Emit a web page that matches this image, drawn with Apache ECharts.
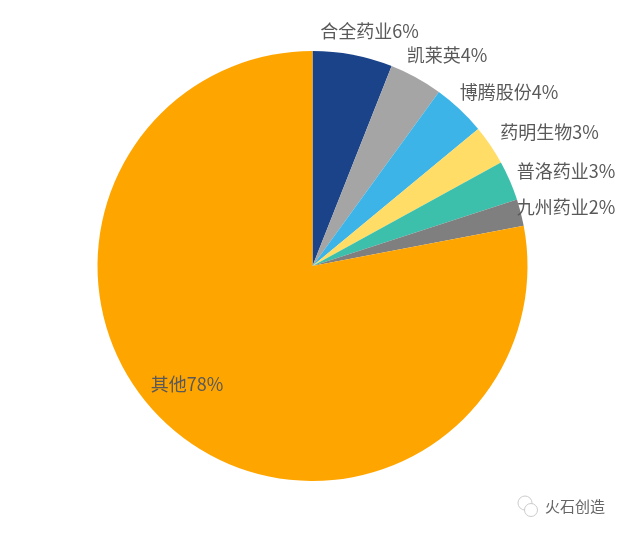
<!DOCTYPE html>
<html><head><meta charset="utf-8">
<style>html,body{margin:0;padding:0;background:#fff}#c{width:625px;height:533px}</style>
<script src="https://cdn.jsdelivr.net/npm/echarts@6/dist/echarts.min.js"></script>
</head><body><div id="c"></div>
<script>
const companies = ['合全药业','凯莱英','博腾股份','药明生物','普洛药业','九州药业','其他'];
const shares = [6,4,4,3,3,2,78];
const colours = ['#1A4389','#A5A5A5','#3CB4E7','#FFDD66','#3CC0AC','#7F7F7F','#FFA500'];
const labelCentres = [[369.5,31],[447,55],[509,92],[549.5,132],[566,171],[566,207],[187,384]];
const fontStack = '"Liberation Sans Narrow","Noto Sans CJK SC",sans-serif';
const chart = echarts.init(document.getElementById('c'), null, {renderer:'canvas'});
chart.setOption({
  animation:false,
  backgroundColor:'#fff',
  series:[{
    type:'pie',
    center:[312.5,266],
    radius:[0,215],
    startAngle:90,
    clockwise:true,
    avoidLabelOverlap:false,
    data:companies.map((n,i)=>({name:n,value:shares[i],itemStyle:{color:colours[i]}})),
    label:{show:true,position:'outside',formatter:p=>p.name+p.value+'%',
      color:'#595959',fontSize:18,fontFamily:fontStack},
    labelLine:{show:false},
    labelLayout:p=>({x:labelCentres[p.dataIndex][0],y:labelCentres[p.dataIndex][1],align:'center',verticalAlign:'middle'}),
    emphasis:{disabled:true}
  }],
  graphic:[
    {type:'circle',shape:{cx:525,cy:503,r:7},style:{fill:'#fff',stroke:'#ccc',lineWidth:1}},
    {type:'circle',shape:{cx:531,cy:510,r:6.5},style:{fill:'#fff',stroke:'#ccc',lineWidth:1}},
    {type:'text',style:{x:545,y:506,text:'火石创造',fill:'#666',font:'15px "Noto Sans CJK SC"',verticalAlign:'middle'}}
  ]
});
</script></body></html>
